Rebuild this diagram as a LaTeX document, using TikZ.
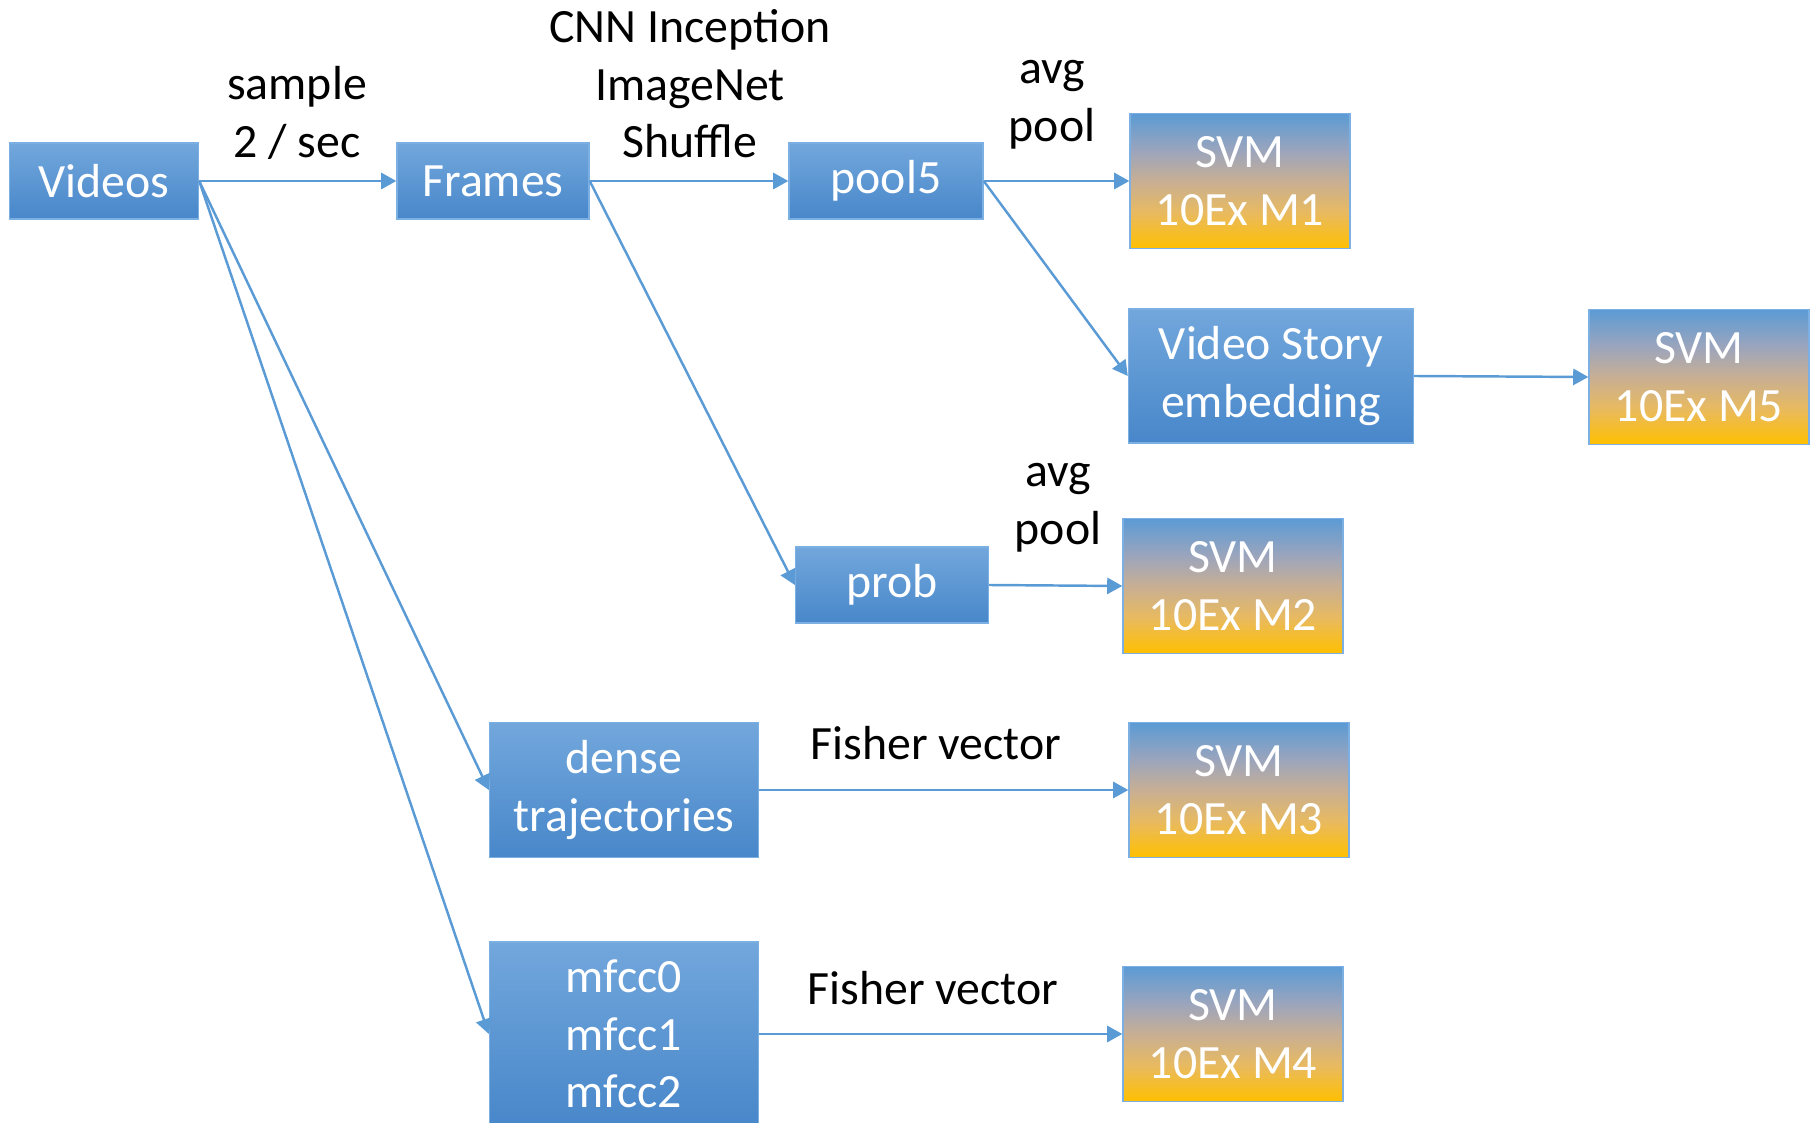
\documentclass[tikz,border=0pt]{standalone}
\usepackage{fontspec}
\setmainfont{Carlito}
\usetikzlibrary{arrows.meta}
\definecolor{blktop}{HTML}{72A7DC}
\definecolor{blkbot}{HTML}{4887CA}
\definecolor{blkedge}{HTML}{7DB0E2}
\definecolor{svmtop}{HTML}{5B9BD5}
\definecolor{svmgrey}{HTML}{9CA5BC}
\definecolor{svmtan}{HTML}{C8AF94}
\definecolor{svmsand}{HTML}{E9BA5E}
\definecolor{svmbot}{HTML}{FFC000}
\definecolor{linkblue}{HTML}{5B9BD5}
\pgfdeclareverticalshading{svmshade}{100bp}{color(0bp)=(svmbot); color(25bp)=(svmbot);
	color(38bp)=(svmsand); color(50bp)=(svmtan); color(61bp)=(svmgrey);
	color(75bp)=(svmtop); color(100bp)=(svmtop)}
\begin{document}
\begin{tikzpicture}[x=0.1mm,y=-0.1mm,
	font=\fontsize{13.6}{16.4}\selectfont,
	blk/.style={draw=blkedge, line width=0.4pt, top color=blktop, bottom color=blkbot,
		text=white, align=center, inner sep=0pt, minimum height=7.6mm},
	svm/.style={draw=blkedge, line width=0.4pt, shading=svmshade,
		text=white, align=center, inner sep=0pt,
		minimum width=22mm, minimum height=13.5mm},
	link/.style={draw=linkblue, line width=0.7pt, -{Triangle[length=4.3pt,width=4.6pt]}},
	lbl/.style={align=center, text=black}]
				\useasboundingbox (0,0) rectangle (1815,1123);
				% feature boxes
				\node[blk, minimum width=18.9mm] (videos) at (104,181) {Videos};
				\node[blk, minimum width=19.2mm] (frames) at (493,181) {Frames};
				\node[blk, minimum width=19.4mm] (pool5) at (886,181) {pool5};
				\node[blk, minimum width=19.3mm] (prob) at (892,585) {prob};
				\node[blk, minimum width=28.5mm, minimum height=13.4mm] (story) at (1271,376) {Video Story\\embedding};
				\node[blk, minimum width=26.9mm, minimum height=13.5mm] (dense) at (624,790) {dense\\trajectories};
				\node[blk, minimum width=26.9mm, minimum height=18.4mm] (mfcc) at (624,1034) {mfcc0\\mfcc1\\mfcc2};
				% classifiers
				\foreach \n/\x/\y in {1/1240/181,2/1233/586,3/1239/790,4/1233/1034,5/1699/377}{
					\node[svm] (m\n) at (\x,\y) {SVM\\10Ex M\n};
				}
				% edge labels
				\node[lbl] (lsample) at (297,113) {sample\\2 / sec};
				\node[lbl] (lcnn) at (690,84) {CNN Inception\\ImageNet\\Shuffle};
				\node[lbl] (lavga) at (1052,105) {avg\\pool};
				\node[lbl] (lavgb) at (1058,508) {avg\\pool};
				\node[lbl] (lfishera) at (936,743) {Fisher vector};
				\node[lbl] (lfisherb) at (933,988) {Fisher vector};
				% connectors
				\draw[link] (videos.east) -- (frames.west);
				\draw[link] (videos.east) -- (dense.west);
				\draw[link] (videos.east) -- (mfcc.west);
				\draw[link] (frames.east) -- (pool5.west);
				\draw[link] (frames.east) -- (prob.west);
				\draw[link] (pool5.east) -- (m1.west);
				\draw[link] (pool5.east) -- (story.west);
				\draw[link] (story.east) -- (m5.west);
				\draw[link] (prob.east) -- (m2.west);
				\draw[link] (dense.east) -- (m3.west);
				\draw[link] (mfcc.east) -- (m4.west);
			\end{tikzpicture}
\end{document}
